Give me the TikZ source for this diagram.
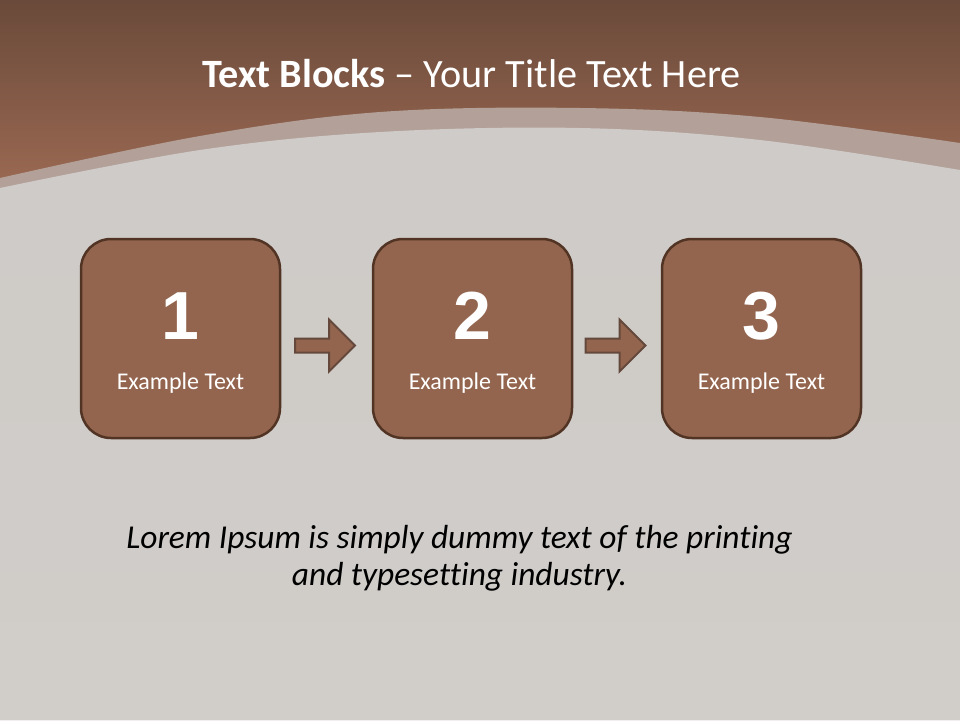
\documentclass[tikz,border=0pt]{standalone}
\usepackage{fontspec}
\setmainfont{Carlito}[Ligatures=NoCommon]
\newfontfamily\numfont{Liberation Sans}
\usetikzlibrary{calc}
\definecolor{topbrown}{HTML}{6A4A3A}
\definecolor{midbrown}{HTML}{9E6B54}
\definecolor{bandcol}{HTML}{B3A099}
\definecolor{graycol}{HTML}{CECBC8}
\definecolor{graylow}{HTML}{D1CDC9}
\definecolor{boxfill}{HTML}{93654E}
\definecolor{boxline}{HTML}{523425}
\tikzset{
  stepbox/.style={draw=boxline, fill=boxfill, line width=2.5pt, rounded corners=30pt,
    minimum width=199pt, minimum height=199pt, inner sep=0pt},
  numtext/.style={text=white, font=\numfont\bfseries\fontsize{68}{70}\selectfont, anchor=base},
  labtext/.style={text=white, font=\fontsize{24}{26}\selectfont, anchor=base},
  bodytext/.style={anchor=base, font=\itshape\fontsize{33.4}{37}\selectfont, inner sep=0pt},
  blockarrow/.style={draw=boxline!90, fill=boxfill, line width=2pt, line join=miter},
}
\begin{document}
\begin{tikzpicture}[x=1pt,y=-1pt]
\useasboundingbox (0,0) rectangle (960,720);
% background
\shade[top color=topbrown, bottom color=midbrown] (0,0) rectangle (960,200);
\fill[bandcol] (0,720) -- plot[smooth, tension=0.6] coordinates {(0,178) (200,136) (380,112) (580,108) (760,117) (960,143)} -- (960,720) -- cycle;
\shade[top color=graycol, bottom color=graylow] (0,720) -- plot[smooth, tension=0.6] coordinates {(0,188) (200,150) (380,132) (580,128) (760,140) (960,170)} -- (960,720) -- cycle;
% title
\node[anchor=base, text=white, font=\fontsize{40.2}{42}\selectfont, inner sep=0pt] (title) at (471.5,87) {\textbf{Text Blocks} – Your Title Text Here};
% boxes
\node[stepbox] (b1) at (180.5,338.5) {};
\node[stepbox] (b2) at (472.5,338.5) {};
\node[stepbox] (b3) at (761.5,338.5) {};
\foreach \i in {1,2,3}{
  \node[numtext] (n\i) at ($(b\i.center)+(0,1)$) {\i};
  \node[labtext] (l\i) at ($(b\i.center)+(0,50.5)$) {Example Text};
}
% arrows
\coordinate (m1) at ($(b1.east)!0.5!(b2.west)+(-1.5,7)$);
\coordinate (m2) at ($(b2.east)!0.5!(b3.west)+(-1.5,7)$);
\foreach \m in {m1,m2}{
  \draw[blockarrow] ($(\m)+(-30,-7)$) -- ($(\m)+(4,-7)$) -- ($(\m)+(4,-26)$) -- ($(\m)+(30,0)$)
    -- ($(\m)+(4,26)$) -- ($(\m)+(4,7)$) -- ($(\m)+(-30,7)$) -- cycle;
}
% body text
\node[bodytext] (body1) at (459.5,548) {Lorem Ipsum is simply dummy text of the printing};
\node[bodytext] (body2) at (459.5,585) {and typesetting industry.};
\end{tikzpicture}
\end{document}
